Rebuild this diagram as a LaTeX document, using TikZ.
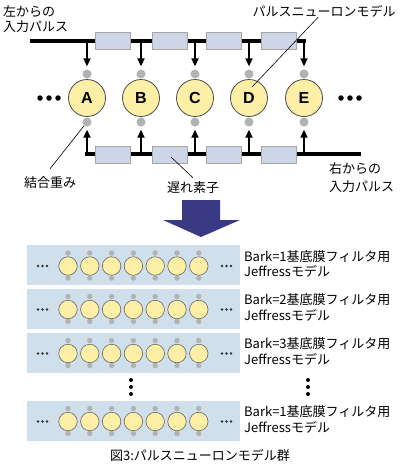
\documentclass[tikz,border=0pt]{standalone}
\usepackage{fontspec}
\usepackage{tikz}
\newfontfamily\jpfont{Noto Sans CJK JP}
\newfontfamily\latfont{Liberation Sans}
\definecolor{neuronfill}{RGB}{253,239,166}
\definecolor{weightgray}{RGB}{178,178,178}
\definecolor{delayfill}{RGB}{204,214,230}
\definecolor{panelfill}{RGB}{207,224,236}
\definecolor{bignavy}{RGB}{58,58,132}
\usetikzlibrary{arrows.meta}

\begin{document}
\begin{tikzpicture}[x=1pt,y=-1pt,
        neuron/.style={circle,draw=black!70,fill=neuronfill,line width=0.8pt,minimum size=37pt,inner sep=0pt,
            font=\latfont\bfseries\fontsize{16}{16}\selectfont},
        weight/.style={circle,fill=weightgray,minimum size=9pt,inner sep=0pt},
        delay/.style={rectangle,draw=black!35,fill=delayfill,line width=0.5pt,minimum width=35pt,minimum height=17pt,inner sep=0pt},
        bus/.style={line width=4pt,line cap=rect},
        pulse/.style={line width=2.5pt,-{Triangle[length=8pt,width=7pt]},shorten >=3pt},
        lbl/.style={font=\jpfont\fontsize{13}{15}\selectfont,align=left,inner sep=0pt},
        callout/.style={line width=0.6pt},
        bigdot/.style={circle,fill=black,minimum size=5.5pt,inner sep=0pt},
        panel/.style={rectangle,fill=panelfill,minimum width=213pt,minimum height=40pt,inner sep=0pt},
        mini/.style={circle,draw=black!60,fill=neuronfill,line width=0.6pt,minimum size=18.5pt,inner sep=0pt},
        miniw/.style={circle,fill=weightgray,draw=black!30,line width=0.3pt,minimum size=5pt,inner sep=0pt},
        smalldot/.style={circle,fill=black!80,minimum size=2.8pt,inner sep=0pt}]
    \useasboundingbox (0,0) rectangle (400,464);

    % top half: one Jeffress chain
    \foreach \n/\x in {A/87,B/141,C/195,D/249,E/304} {
        \node[neuron] (\n) at (\x,98) {\n};
        \node[weight] (wt\n) at (\x,74) {};
        \node[weight] (wb\n) at (\x,122) {};
        \coordinate (t\n) at (\x,40.5);
        \coordinate (b\n) at (\x,154);
    }
    \coordinate (inL) at (32,40.5);
    \coordinate (inR) at (359,154);
    \draw[bus] (inL) -- (tE);
    \draw[bus] (bA) -- (inR);
    \foreach \n in {A,B,C,D,E} {
        \draw[pulse] (t\n) -- (wt\n);
        \draw[pulse] (b\n) -- (wb\n);
    }
    \foreach \i/\x in {1/112.5,2/169.5,3/223.5,4/279} {
        \node[delay] (dt\i) at (\x,40.5) {};
        \node[delay] (db\i) at (\x,154.5) {};
    }
    \foreach \i/\x in {1/40,2/49,3/58} \node[bigdot] (ldot\i) at (\x,98) {};
    \foreach \i/\x in {1/341,2/350,3/359} \node[bigdot] (rdot\i) at (\x,98) {};

    \node[lbl,anchor=north west] (leftin) at (3,5) {左からの\\入力パルス};
    \node[lbl,anchor=north west,font=\jpfont\fontsize{13}{18}\selectfont] (rightin) at (329,162) {右からの\\入力パルス};
    \node[lbl] (pnlabel) at (324,11) {パルスニューロンモデル};
    \node[lbl] (wlabel) at (50,183) {結合重み};
    \node[lbl] (dlabel) at (193,188) {遅れ素子};
    \coordinate (pD) at (252,87);
    \coordinate (pdel) at (171,157);
    \draw[callout] (pnlabel) -- (pD);
    \draw[callout] ([yshift=8pt]wlabel.north) -- (wbA);
    \draw[callout] (pdel) -- ([yshift=4pt]dlabel.north);

    % big arrow
    \fill[bignavy] (182,200) -- (220,200) -- (220,220) -- (240,220) -- (201,237)
        -- (163,220) -- (182,220) -- cycle;

    % bottom half: stacked models
    \foreach \p/\y/\k in {1/265/1,2/308.5/2,3/352.5/3,4/420.5/1} {
        \node[panel] (panel\p) at (133.5,\y) {};
        \foreach \j in {0,...,6} {
            \node[miniw] (mwt\p-\j) at (68+21.8*\j,\y-12) {};
            \node[miniw] (mwb\p-\j) at (68+21.8*\j,\y+13) {};
            \node[mini] (m\p-\j) at (68+21.8*\j,\y+1) {};
        }
        \foreach \d in {0,1,2} {
            \node[smalldot] (pl\p-\d) at (38+4.5*\d,\y+1) {};
            \node[smalldot] (pr\p-\d) at (222+4.5*\d,\y+1) {};
        }
        \node[lbl,anchor=west,font=\jpfont\fontsize{13}{15.5}\selectfont] (plabel\p) at (244,\y-1)
            {Bark=\k 基底膜フィルタ用\\Jeffressモデル};
    }
    \foreach \i/\y in {1/380,2/387,3/394} {
        \node[bigdot,minimum size=4pt] (vl\i) at (131,\y) {};
        \node[bigdot,minimum size=4pt] (vr\i) at (308,\y) {};
    }

    \node[lbl] (caption) at (200,455) {図3:パルスニューロンモデル群};
\end{tikzpicture}
\end{document}
